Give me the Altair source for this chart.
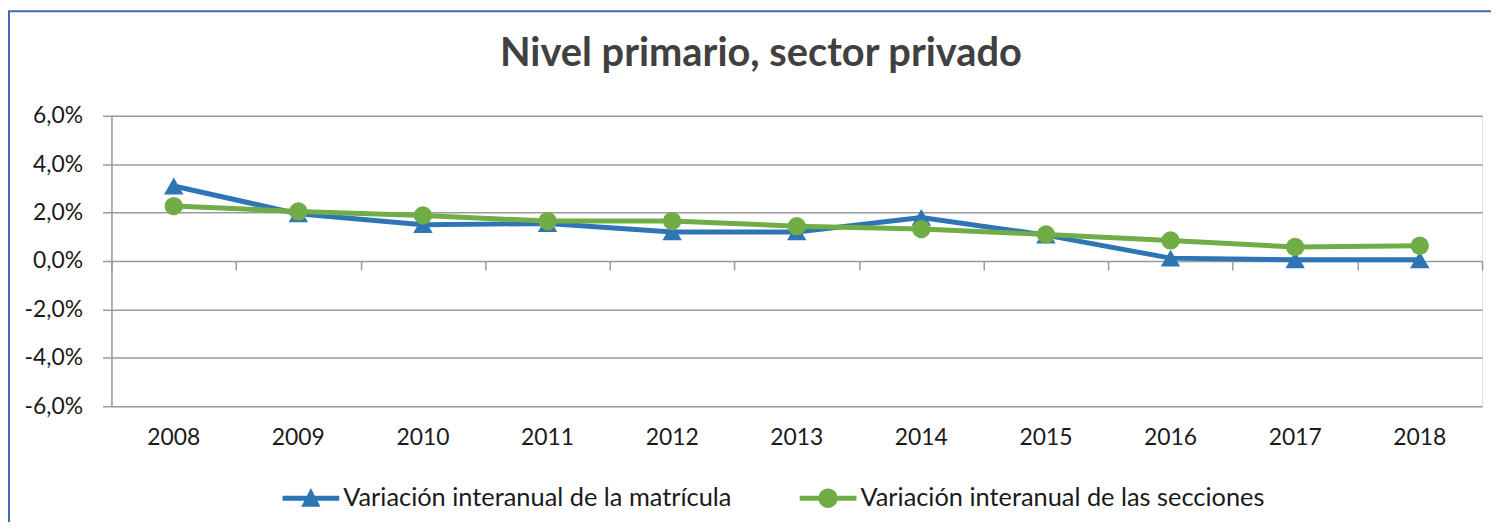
import altair as alt
import pandas as pd

years = ["2008", "2009", "2010", "2011", "2012", "2013", "2014", "2015", "2016", "2017", "2018"]
matricula = [3.1, 1.95, 1.5, 1.55, 1.2, 1.2, 1.8, 1.07, 0.12, 0.05, 0.05]
secciones = [2.27, 2.05, 1.88, 1.65, 1.65, 1.44, 1.32, 1.1, 0.85, 0.58, 0.63]
series = ["Variación interanual de la matrícula", "Variación interanual de las secciones"]
colors = ["#2E75B6", "#70AD47"]

rows = []
for y, a, b in zip(years, matricula, secciones):
    rows.append({"year": y, "serie": series[0], "value": a})
    rows.append({"year": y, "serie": series[1], "value": b})
df = pd.DataFrame(rows)

W, H = 1378, 292
FONT = "Lato"

xscale = alt.Scale(type="band", paddingInner=0, paddingOuter=0, domain=years)
yscale = alt.Scale(domain=[-6, 6], nice=False, zero=False)
cscale = alt.Scale(domain=series, range=colors)

yaxis = alt.Axis(
    values=[-6, -4, -2, 0, 2, 4, 6],
    labelExpr="(datum.value < 0 ? '-' : '') + replace(format(abs(datum.value), '.1f'), '.', ',') + '%'",
    title=None, labelFontSize=23, labelFont=FONT, labelColor="#1a1a1a",
    tickSize=9, tickColor="#9a9a9a", tickWidth=1.5,
    domainColor="#9a9a9a", domainWidth=1.5,
    gridColor="#9a9a9a", gridWidth=1.5, labelPadding=20,
)

base = alt.Chart(df)

lines = base.mark_line(strokeWidth=5).encode(
    x=alt.X("year:O", scale=xscale, axis=alt.Axis(
        orient="bottom", title=None, ticks=False, domain=False, labelFontSize=23, labelFont=FONT,
        labelColor="#1a1a1a", labelPadding=20, labelAngle=0, grid=False)),
    y=alt.Y("value:Q", scale=yscale, axis=yaxis),
    color=alt.Color("serie:N", scale=cscale, legend=None),
)

points = base.mark_point(filled=True, opacity=1).encode(
    x=alt.X("year:O", scale=xscale, axis=alt.Axis(
        orient="bottom", title=None, labels=False, ticks=True, tickBand="extent", tickSize=9,
        tickColor="#9a9a9a", tickWidth=1.5, domain=False, grid=False,
        offset=-H / 2)),
    y=alt.Y("value:Q", scale=yscale),
    color=alt.Color("serie:N", scale=cscale, legend=None),
    shape=alt.Shape("serie:N", scale=alt.Scale(domain=series, range=["triangle-up", "circle"]), legend=None),
    size=alt.Size("serie:N", scale=alt.Scale(domain=series, range=[380, 340]), legend=None),
)

path_tri = ("M-1,-0.085 L1,-0.085 L1,0.085 L-1,0.085 Z "
            "M0,-0.36 L0.34,0.3 L-0.34,0.3 Z")
path_cir = ("M-1,-0.085 L1,-0.085 L1,0.085 L-1,0.085 Z "
            "M-0.34,0 A0.34,0.34 0 1,1 0.34,0 A0.34,0.34 0 1,1 -0.34,0 Z")

leg = alt.Legend(
    title=None, orient="none", direction="horizontal", legendX=172, legendY=356,
    labelFontSize=25.5, labelFont=FONT, labelColor="#1a1a1a", labelLimit=0,
    symbolSize=3249, symbolStrokeWidth=0, columnPadding=68, labelOffset=4)

legend_layer = base.mark_point(filled=True, opacity=1).encode(
    x=alt.X("year:O", scale=xscale, axis=None),
    y=alt.Y("value:Q", scale=yscale),
    color=alt.Color("serie:N", scale=alt.Scale(domain=series, range=colors), legend=leg),
    shape=alt.Shape("serie:N", scale=alt.Scale(domain=series, range=[path_tri, path_cir]), legend=leg),
).transform_filter("false")

border = alt.Chart(alt.Data(values=[{"a": 1}])).mark_rect(
    filled=False, stroke="#4169B0", strokeWidth=2
).encode(
    x=alt.value(-103), y=alt.value(-105), x2=alt.value(1600), y2=alt.value(800)
)

chart = alt.layer(border, lines, points, legend_layer).resolve_scale(
    shape="independent", color="independent"
).resolve_axis(x="independent").properties(
    width=W, height=H,
    autosize=alt.AutoSizeParams(type="none"),
    padding={"left": 104, "top": 107, "right": 9, "bottom": 115},
    title=alt.TitleParams(
        "Nivel primario, sector privado", font=FONT, fontSize=40, fontWeight="bold",
        color="#404040", anchor="middle", frame="group", dx=-36,
        baseline="alphabetic", offset=-96,
    ),
).configure_view(strokeWidth=0, stroke="transparent").configure(background="white")

chart.save("out.html", embed_options={"renderer": "svg", "actions": False})
